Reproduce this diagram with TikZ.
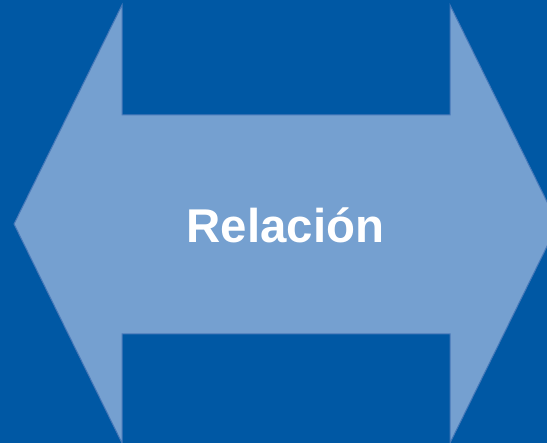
\documentclass[tikz,border=0pt]{standalone}
\usepackage{fontspec}
\setmainfont{Liberation Sans}
\definecolor{bgblue}{RGB}{0,88,164}
\definecolor{arrowfill}{RGB}{117,160,208}
\definecolor{arrowline}{RGB}{70,120,185}
\tikzset{
  dblarrow/.style={fill=arrowfill, draw=arrowline, line width=1pt, line join=miter},
  label/.style={text=white, font=\fontsize{47.4}{56}\selectfont\bfseries, inner sep=0pt, anchor=base}
}
\begin{document}
\begin{tikzpicture}[x=1pt,y=-1pt]
\useasboundingbox (0,0) rectangle (547,443);
\clip (0,0) rectangle (547,443);
\fill[bgblue] (0,0) rectangle (547,443);
\draw[dblarrow] (14,224) -- (122,5) -- (122,115) -- (450,115) -- (450,5) -- (558,224)
  -- (450,443) -- (450,334) -- (122,334) -- (122,443) -- cycle;
\node[label] (rel) at (285.5,243) {Relación};
\end{tikzpicture}
\end{document}
